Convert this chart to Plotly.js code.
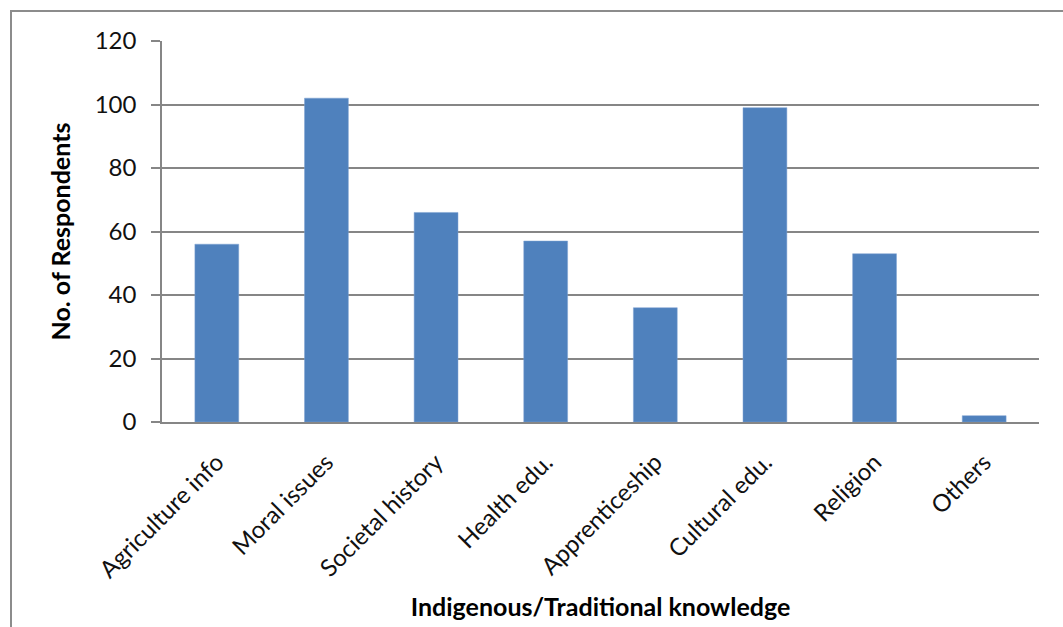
<!DOCTYPE html>
<html>
<head>
<meta charset="utf-8">
<script src="https://cdn.plot.ly/plotly-3.0.1.min.js"></script>
<style>
html,body{margin:0;padding:0;background:#fff;}
#wrap{position:relative;width:1063px;height:627px;}
#chart{width:1063px;height:627px;}
#frame{position:absolute;left:10px;top:10px;width:1100px;height:700px;border-left:2px solid #8c8c8c;border-top:2px solid #8c8c8c;pointer-events:none;}
</style>
</head>
<body>
<div id="wrap"><div id="chart"></div><div id="frame"></div></div>
<script>
const categories = ["Agriculture info","Moral issues","Societal history","Health edu.","Apprenticeship","Cultural edu.","Religion","Others"];
const respondents = [56,102,66,57,36,99,53,2];
const yTickVals = [0,20,40,60,80,100,120];

const trace = {
  type:'bar', x:categories, y:respondents,
  marker:{color:'#4F81BD', line:{color:'#7FA3D3', width:0.5}},
  hoverinfo:'x+y'
};
const font = "Lato, 'Open Sans', sans-serif";
const layout = {
  width:1063, height:627,
  margin:{l:162, r:24, t:41, b:205},
  paper_bgcolor:'#fff', plot_bgcolor:'#fff',
  bargap:0.6,
  showlegend:false,
  font:{family:font, color:'#000'},
  xaxis:{
    tickangle:-45, tickfont:{size:24, family:font, color:'#111'},
    ticklabelstandoff:15,
    showline:true, linecolor:'#868686', linewidth:1.5,
    ticks:'', showgrid:false,
    title:{text:'<b>Indigenous/Traditional knowledge</b>', font:{size:25, family:font}, standoff:16}
  },
  yaxis:{
    range:[0,120], tickvals:yTickVals, tickfont:{size:24, family:font, color:'#111'},
    ticklabelstandoff:10,
    showline:true, linecolor:'#868686', linewidth:1.5,
    ticks:'outside', ticklen:9, tickcolor:'#868686', tickwidth:1.5,
    showgrid:true, gridcolor:'#868686', gridwidth:1.5,
    zeroline:false,
    title:{text:'<b>No. of Respondents</b>', font:{size:25, family:font}, standoff:17}
  }
};
Plotly.newPlot('chart',[trace],layout,{displayModeBar:false});
</script>
</body>
</html>
